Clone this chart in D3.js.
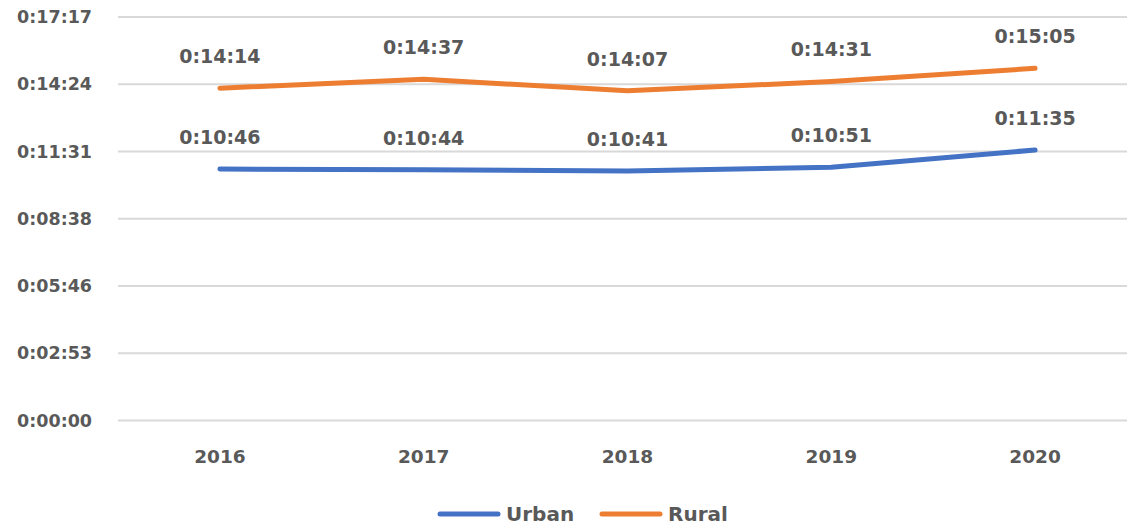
<!DOCTYPE html>
<html lang="en">
<head>
<meta charset="utf-8">
<title>Urban vs Rural</title>
<script src="https://d3js.org/d3.v7.min.js"></script>
<style>
body { margin: 0; background: #fff; }
text { font-family: "DejaVu Sans", sans-serif; font-weight: bold; fill: #595959; }
</style>
</head>
<body>
<div id="chart"></div>
<script>
// years on the x axis
var years = ["2016", "2017", "2018", "2019", "2020"];
// durations in seconds
var urban = [646, 644, 641, 651, 695];
var rural = [854, 877, 847, 871, 905];
// y ticks in seconds (0.002 day steps)
var yTicks = [0, 172.8, 345.6, 518.4, 691.2, 864, 1036.8];

var width = 1127, height = 529;
var margin = {top: 17, right: -10, bottom: 108.5, left: 118};

var svg = d3.select("#chart").append("svg")
  .attr("width", width)
  .attr("height", height);

var x = d3.scaleBand()
  .domain(years)
  .range([margin.left, width - margin.right]);

var y = d3.scaleLinear()
  .domain([0, 1036.8])
  .range([height - margin.bottom, margin.top]);

function fmt(s) {
  s = Math.round(s);
  var h = Math.floor(s / 3600), m = Math.floor((s % 3600) / 60), sec = s % 60;
  return h + ":" + d3.format("02")(m) + ":" + d3.format("02")(sec);
}

// gridlines
svg.append("g")
  .selectAll("line")
  .data(yTicks)
  .enter().append("line")
    .attr("x1", margin.left)
    .attr("x2", width - margin.right)
    .attr("y1", function(d) { return y(d); })
    .attr("y2", function(d) { return y(d); })
    .style("stroke", "#d9d9d9")
    .style("stroke-width", 2);

// y labels
svg.append("g")
  .selectAll("text")
  .data(yTicks)
  .enter().append("text")
    .attr("x", 92)
    .attr("y", function(d) { return y(d); })
    .attr("dy", "0.35em")
    .attr("text-anchor", "end")
    .style("font-size", "17.5px")
    .text(fmt);

// x labels
svg.append("g")
  .selectAll("text")
  .data(years)
  .enter().append("text")
    .attr("x", function(d) { return x(d) + x.bandwidth() / 2; })
    .attr("y", 457)
    .attr("dy", "0.35em")
    .attr("text-anchor", "middle")
    .style("font-size", "18.5px")
    .text(function(d) { return d; });

var series = [
  {name: "Urban", values: urban, color: "#4472c4"},
  {name: "Rural", values: rural, color: "#ed7d31"}
];

var line = d3.line()
  .x(function(d, i) { return x(years[i]) + x.bandwidth() / 2; })
  .y(function(d) { return y(d); });

series.forEach(function(s) {
  svg.append("path")
    .datum(s.values)
    .attr("d", line)
    .style("fill", "none")
    .style("stroke", s.color)
    .style("stroke-width", 5)
    .style("stroke-linecap", "round")
    .style("stroke-linejoin", "round");

  svg.append("g")
    .selectAll("text")
    .data(s.values)
    .enter().append("text")
      .attr("x", function(d, i) { return x(years[i]) + x.bandwidth() / 2; })
      .attr("y", function(d) { return y(d) - 32; })
      .attr("dy", "0.35em")
      .attr("text-anchor", "middle")
      .style("font-size", "19px")
      .text(fmt);
});

// legend
var legend = svg.append("g");
var legX = [440, 602];
series.forEach(function(s, i) {
  legend.append("line")
    .attr("x1", legX[i])
    .attr("x2", legX[i] + 58)
    .attr("y1", 514)
    .attr("y2", 514)
    .style("stroke", s.color)
    .style("stroke-width", 5)
    .style("stroke-linecap", "round");
  legend.append("text")
    .attr("x", legX[i] + 66)
    .attr("y", 514)
    .attr("dy", "0.35em")
    .style("font-size", "20px")
    .text(s.name);
});
</script>
</body>
</html>
